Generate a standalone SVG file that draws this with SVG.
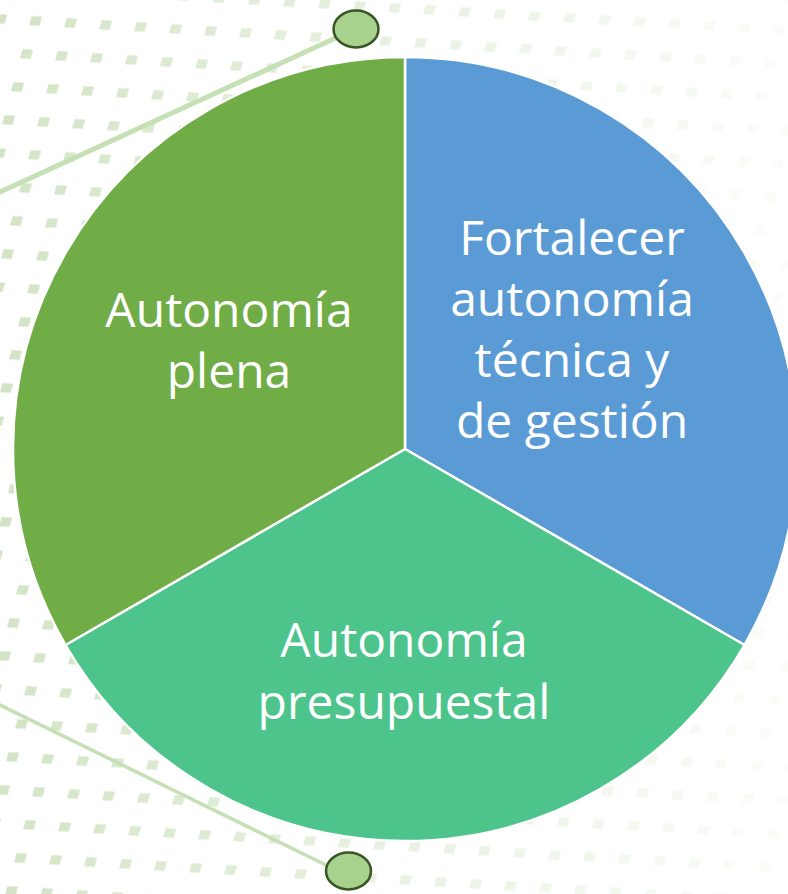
<svg xmlns="http://www.w3.org/2000/svg" width="788" height="894" viewBox="0 0 788 894">
  <defs>
    <style>
      .lbl { font-family: "Open Sans", "Noto Sans", "Liberation Sans", sans-serif; font-size: 48px; fill: #ffffff; text-anchor: middle; }
      .sector { stroke: #ffffff; stroke-width: 2.5; stroke-linejoin: round; }
      .link { stroke: #C5E0B4; fill: none; stroke-linecap: round; }
      .knob { fill: #A9D18E; stroke: #375623; stroke-width: 2.5; }
    </style>
    <pattern id="dots" patternUnits="userSpaceOnUse" width="1" height="1" patternTransform="matrix(35 2 -9 33 0 740.5)">
      <rect x="0.33" y="0.33" width="0.3" height="0.28" fill="#D2E4C5"/>
    </pattern>
    <linearGradient id="fade" x1="0" y1="0" x2="788" y2="0" gradientUnits="userSpaceOnUse">
      <stop offset="0" stop-color="#fff" stop-opacity="1"/>
      <stop offset="0.5" stop-color="#fff" stop-opacity="0.5"/>
      <stop offset="1" stop-color="#fff" stop-opacity="0.1"/>
    </linearGradient>
    <mask id="fadeMask">
      <rect x="0" y="0" width="788" height="894" fill="url(#fade)"/>
    </mask>
  </defs>
  <rect x="0" y="0" width="788" height="894" fill="#ffffff"/>
  <g id="background-dots" mask="url(#fadeMask)">
    <rect x="0" y="0" width="788" height="894" fill="url(#dots)"/>
  </g>
  <g id="connectors">
    <line class="link" x1="-2" y1="193" x2="340" y2="36" stroke-width="5"/>
    <line class="link" x1="-2" y1="704" x2="332" y2="868" stroke-width="3.5"/>
  </g>
  <g id="knob-top"><ellipse class="knob" cx="356" cy="29" rx="22.5" ry="18.5"/></g>
  <g id="knob-bottom"><ellipse class="knob" cx="348.5" cy="871" rx="22.5" ry="18.5"/></g>
  <g id="node-blue">
    <path class="sector" fill="#5B9BD5" d="M405,449 L405,57 A392,392 0 0 1 744.5,645 Z"/>
    <text class="lbl" x="572" y="255">Fortalecer</text>
    <text class="lbl" x="572" y="316">autonomía</text>
    <text class="lbl" x="572" y="377">técnica y</text>
    <text class="lbl" x="572" y="438">de gestión</text>
  </g>
  <g id="node-teal">
    <path class="sector" fill="#4DC48C" d="M405,449 L744.5,645 A392,392 0 0 1 65.5,645 Z"/>
    <text class="lbl" x="404" y="657">Autonomía</text>
    <text class="lbl" x="404" y="719">presupuestal</text>
  </g>
  <g id="node-green">
    <path class="sector" fill="#70AD47" d="M405,449 L65.5,645 A392,392 0 0 1 405,57 Z"/>
    <text class="lbl" x="229" y="327">Autonomía</text>
    <text class="lbl" x="229" y="388">plena</text>
  </g>
</svg>
